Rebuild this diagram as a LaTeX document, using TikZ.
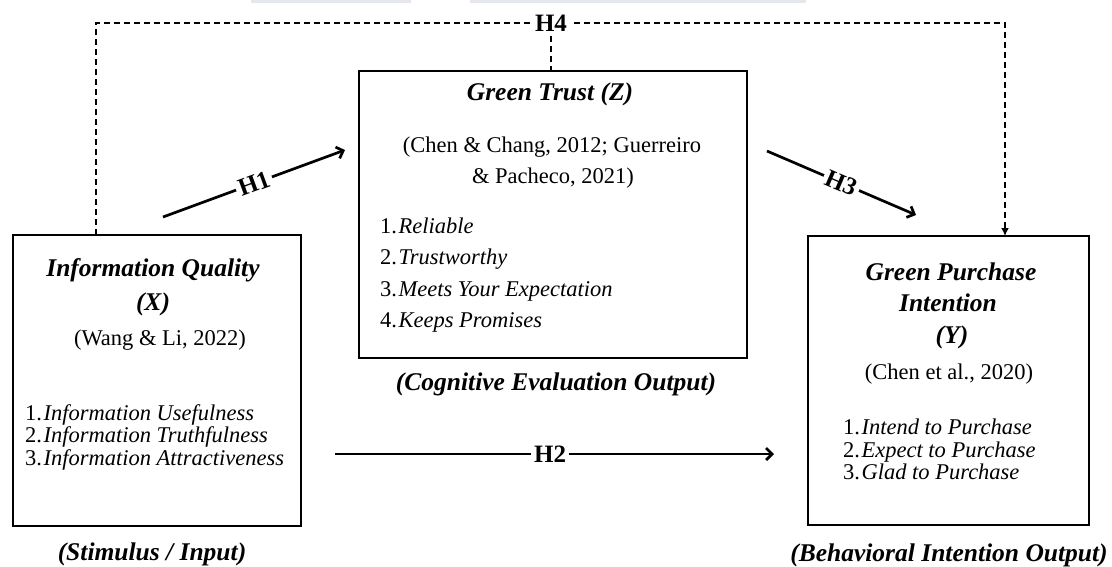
\documentclass[tikz,border=0pt]{standalone}
\usepackage{fontspec}
\setmainfont{Liberation Serif}
\usetikzlibrary{arrows.meta}
\definecolor{topbar}{HTML}{E4E8ED}
\newcommand{\itemnum}[2]{#1.\kern1.5pt\textit{#2}}
\begin{document}
\begin{tikzpicture}[x=1pt,y=-1pt,
  boxst/.style={draw,line width=2pt,inner sep=0pt,outer sep=0pt},
  ttl/.style={font=\fontsize{25.5}{30}\selectfont\bfseries\itshape,inner sep=0pt,anchor=base},
  cit/.style={font=\fontsize{22.5}{27}\selectfont,inner sep=0pt,anchor=base},
  itm/.style={font=\fontsize{22.5}{27}\selectfont,inner sep=0pt,anchor=base west},
  hlab/.style={font=\fontsize{25}{30}\selectfont\bfseries,fill=white,inner sep=3pt},
  solidarrow/.style={line width=2.7pt,-{Straight Barb[length=6pt,width=12pt]}},
  dasharrow/.style={line width=2pt,dash pattern=on 6pt off 4pt}]
\useasboundingbox (0,0) rectangle (1112,566);
\fill[white] (0,0) rectangle (1112,566);
\fill[topbar] (251,0) rectangle (411,3);
\fill[topbar] (470,0) rectangle (806,3);

% X box
\node[boxst,minimum width=288pt,minimum height=291pt] (X) at (157,380.5) {};
\node[ttl] (xt1) at (153,276.5) {Information Quality};
\node[ttl] (xt2) at (153,310) {(X)};
\node[cit] (xc) at (160,345.5) {(Wang \& Li, 2022)};
\node[itm] (xi1) at (25,420) {\itemnum{1}{Information Usefulness}};
\node[itm] (xi2) at (25,442.5) {\itemnum{2}{Information Truthfulness}};
\node[itm] (xi3) at (25,465) {\itemnum{3}{Information Attractiveness}};
\node[ttl] (xl) at (152,560) {(Stimulus / Input)};

% Z box
\node[boxst,minimum width=388pt,minimum height=287pt] (Z) at (553,214.5) {};
\node[ttl] (zt) at (550,100) {Green Trust (Z)};
\node[cit] (zc1) at (552,152.5) {(Chen \& Chang, 2012; Guerreiro};
\node[cit] (zc2) at (553,183.5) {\& Pacheco, 2021)};
\node[itm] (zi1) at (380,233.5) {\itemnum{1}{Reliable}};
\node[itm] (zi2) at (380,264.5) {\itemnum{2}{Trustworthy}};
\node[itm] (zi3) at (380,296) {\itemnum{3}{Meets Your Expectation}};
\node[itm] (zi4) at (380,327.5) {\itemnum{4}{Keeps Promises}};
\node[ttl] (zl) at (556,390.5) {(Cognitive Evaluation Output)};

% Y box
\node[boxst,minimum width=281pt,minimum height=289pt] (Y) at (948.5,380.5) {};
\node[ttl] (yt1) at (951,280.5) {Green Purchase};
\node[ttl] (yt2) at (948,311.5) {Intention};
\node[ttl] (yt3) at (952,343.5) {(Y)};
\node[cit] (yc) at (949,379.5) {(Chen et al., 2020)};
\node[itm] (yi1) at (843,434.5) {\itemnum{1}{Intend to Purchase}};
\node[itm] (yi2) at (843,457.5) {\itemnum{2}{Expect to Purchase}};
\node[itm] (yi3) at (843,479.5) {\itemnum{3}{Glad to Purchase}};
\node[ttl] (yl) at (949,561) {(Behavioral Intention Output)};

% H1
\coordinate (h1s) at (163,217);
\coordinate (h1e) at (345,150);
\draw[solidarrow] (h1s) -- node[hlab,sloped] (H1) {H1} (h1e);
% H3
\coordinate (h3s) at (767,151);
\coordinate (h3e) at (916,215);
\draw[solidarrow] (h3s) -- node[hlab,sloped] (H3) {H3} (h3e);
% H2
\coordinate (h2s) at (335,454);
\coordinate (h2e) at (774,454);
\draw[solidarrow] (h2s) -- node[hlab,pos=0.49] (H2) {H2} (h2e);
% H4
\coordinate (h4L) at (96,23);
\coordinate (h4R) at (1005,23);
\draw[dasharrow,-{Latex[length=8pt,width=8pt]}] (X.north -| h4L) -- (h4L) -- (h4R) -- (Y.north -| h4R);
\node[hlab,inner sep=5pt] (H4) at (551,23) {H4};
\draw[dasharrow] (H4.south) -- (Z.north -| H4.south);
\end{tikzpicture}
\end{document}
